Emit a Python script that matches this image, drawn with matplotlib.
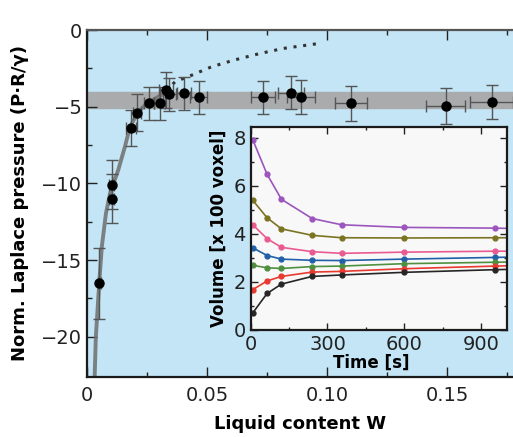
import numpy as np
import matplotlib
matplotlib.use('Agg')
import matplotlib.pyplot as plt
from matplotlib.ticker import MultipleLocator, FixedLocator

# main data: liquid content vs normalized Laplace pressure
w = [0.0050, 0.0102, 0.0102, 0.0182, 0.0208, 0.0257, 0.0302, 0.0328, 0.0342,
     0.0404, 0.0464, 0.0733, 0.0848, 0.0890, 0.1099, 0.1493, 0.1685]
p = [-16.52, -10.07, -10.98, -6.37, -5.39, -4.78, -4.78, -3.91, -4.19,
     -4.13, -4.39, -4.39, -4.09, -4.35, -4.78, -4.96, -4.68]
p_err = [2.3, 1.6, 1.6, 1.17, 1.2, 1.05, 1.05, 1.17, 1.06,
         1.09, 1.1, 1.1, 1.07, 1.1, 1.12, 1.16, 1.1]
w_err = [0.0007, 0.001, 0.001, 0.002, 0.0018, 0.002, 0.0022, 0.0028, 0.0028,
         0.003, 0.0035, 0.005, 0.0055, 0.0058, 0.0065, 0.0081, 0.009]

# theory curve (solid part and dotted continuation)
curve_w = [0.0031, 0.0036, 0.0050, 0.0061, 0.0078, 0.0095, 0.0129, 0.0157,
           0.0178, 0.0213, 0.0248, 0.0296, 0.0331]
curve_p = [-22.6, -20.0, -16.5, -14.1, -11.96, -10.65, -9.13, -7.61,
           -6.31, -5.33, -4.78, -4.35, -4.02]
dot_w = [0.0331, 0.0352, 0.0366, 0.0435, 0.0518, 0.061, 0.072, 0.0818, 0.0974]
dot_p = [-4.02, -3.59, -3.37, -2.94, -2.39, -1.96, -1.52, -1.19, -0.85]

band_lo, band_hi = -5.08, -4.05

# inset data: volume over time
t = [8, 64, 120, 240, 355, 600, 955, 1000]
vol = {
    '#9b55bd': [7.92, 6.48, 5.44, 4.64, 4.38, 4.27, 4.24, 4.23],
    '#7a7422': [5.40, 4.67, 4.21, 3.94, 3.84, 3.83, 3.84, 3.84],
    '#ea5a92': [4.38, 3.80, 3.44, 3.26, 3.19, 3.24, 3.28, 3.28],
    '#2160a8': [3.42, 3.10, 2.95, 2.90, 2.89, 2.95, 3.02, 3.03],
    '#4f9040': [2.69, 2.59, 2.56, 2.64, 2.66, 2.76, 2.82, 2.83],
    '#e83a30': [1.68, 2.04, 2.23, 2.41, 2.44, 2.55, 2.66, 2.67],
    '#262626': [0.71, 1.52, 1.91, 2.23, 2.29, 2.40, 2.51, 2.52],
}

fig = plt.figure(figsize=(5.13, 4.37), dpi=100)
fig.patch.set_facecolor('white')

ax = fig.add_axes([0.170, 0.138, 0.830, 0.793])
ax.set_facecolor('#c3e5f5')
ax.axhspan(band_lo, band_hi, color='#a9abad', zorder=1)
ax.plot(curve_w, curve_p, '-', color='#6f6f6f', lw=2.8, alpha=0.85, zorder=2,
        solid_capstyle='round')
ax.plot(dot_w, dot_p, color='#333333', lw=2.2, ls=(0, (1, 2.2)), zorder=2)
ax.errorbar(w, p, yerr=p_err, xerr=w_err, fmt='o', color='black', ms=6.5,
            ecolor='#555555', elinewidth=1.0, capsize=4, capthick=1.0, zorder=3)

ax.set_xlim(0, 0.1774)
ax.set_ylim(-22.6, 0)
ax.set_xticks([0, 0.05, 0.10, 0.15])
ax.set_xticklabels(['0', '0.05', '0.10', '0.15'])
ax.xaxis.set_minor_locator(FixedLocator([0.025, 0.075, 0.125, 0.175]))
ax.yaxis.set_major_locator(MultipleLocator(5))
ax.yaxis.set_minor_locator(FixedLocator([-2.5, -7.5, -12.5, -17.5]))
ax.tick_params(which='both', direction='in', top=True, right=False, labelsize=14,
               colors='#222222')
ax.tick_params(which='major', length=7, width=1.0)
ax.tick_params(which='minor', length=3.5, width=1.0)
ax.tick_params(axis='x', pad=7)
for s in ['left', 'bottom', 'top']:
    ax.spines[s].set_linewidth(1.6)
    ax.spines[s].set_color('#1a1a1a')
ax.spines['top'].set_color('#555555')
ax.spines['right'].set_visible(False)
ax.set_xlabel('Liquid content W', fontsize=13, fontweight='bold', labelpad=7)
ax.set_ylabel('Norm. Laplace pressure (P\u00b7R/\u03b3)', fontsize=13,
              fontweight='bold', labelpad=9)

# inset
ins = fig.add_axes([0.4887, 0.2449, 0.499, 0.4645])
ins.set_facecolor('#f8f8f8')
for c, v in vol.items():
    ins.plot(t, v, '-o', color=c, lw=1.2, ms=3.5, markevery=list(range(7)),
             clip_on=True)
ins.set_xlim(0, 1000)
ins.set_ylim(0, 8.45)
ins.xaxis.set_major_locator(MultipleLocator(300))
ins.xaxis.set_minor_locator(MultipleLocator(150))
ins.yaxis.set_major_locator(MultipleLocator(2))
ins.yaxis.set_minor_locator(MultipleLocator(1))
ins.tick_params(which='both', direction='in', top=True, right=True, labelsize=14,
                colors='#222222')
ins.tick_params(which='major', length=5, width=1.0)
ins.tick_params(which='minor', length=2.5, width=1.0)
for s in ins.spines.values():
    s.set_linewidth(1.6)
    s.set_color('#1a1a1a')
ins.set_xlabel('Time [s]', fontsize=12, fontweight='bold')
ins.xaxis.set_label_coords(0.47, -0.115)
ins.set_ylabel('Volume [x 100 voxel]', fontsize=12, fontweight='bold', labelpad=4)

fig.savefig('out.png', dpi=100, facecolor='white')
